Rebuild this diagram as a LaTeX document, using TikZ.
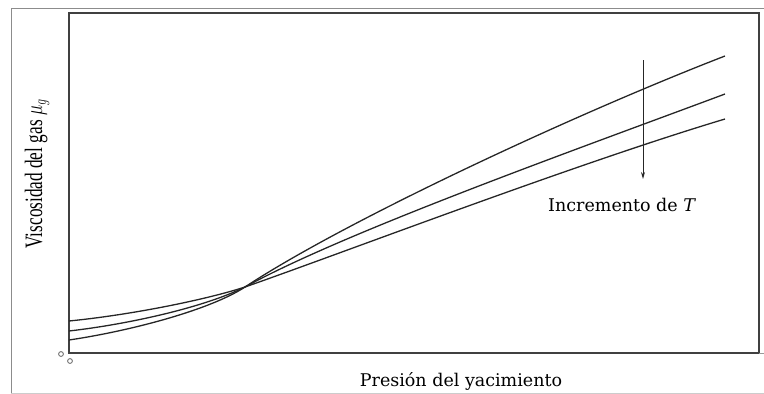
\documentclass[tikz,border=0pt]{standalone}
\usepackage{fontspec}
\usepackage{graphicx}
\setmainfont{Liberation Serif}
\newfontfamily\labfont{DejaVu Serif}
\usetikzlibrary{arrows.meta}
\begin{document}
\begin{tikzpicture}[x=1pt,y=-1pt,
  curve/.style={line width=1.3pt, draw=black!85},
  axisline/.style={line width=1.3pt, draw=black!75},
  frameline/.style={line width=1pt, draw=black!45},
  lab/.style={font=\labfont\fontsize{17.5}{20}\selectfont, text=black, inner sep=0pt}]
\useasboundingbox (0,0) rectangle (764,394);
% outer frame
\draw[frameline] (11,393) -- (11,8) -- (770,8);
\draw[line width=0.8pt, draw=black!20] (11,393) -- (764,393);
% axis box
\draw[axisline] (69,353) -- (69,13) -- (759,13) -- (759,353) -- cycle;
\draw[line width=1pt, draw=black!40] (759,353) -- (764,353);
% small origin marks
\draw[line width=0.9pt, draw=black!55] (61,354) circle (2.4);
\draw[line width=0.9pt, draw=black!55] (70,361) circle (2.4);
% curves
\coordinate (x) at (245,287);
\draw[curve] (69,340) .. controls (130,331) and (210,310) .. (x)
  .. controls (345,221) and (575,114) .. (725,56);
\draw[curve] (69,331) .. controls (130,324) and (205,307) .. (x)
  .. controls (345,232) and (575,150) .. (725,94);
\draw[curve] (69,321) .. controls (130,315) and (205,300) .. (x)
  .. controls (345,252) and (575,164) .. (725,119);
% arrow
\coordinate (atop) at (643,60);
\coordinate (abot) at (643,179);
\draw[line width=1pt, draw=black!85, -{Stealth[length=7pt,width=4pt]}] (atop) -- (abot);
\node[lab, anchor=west] (inc) at (548,205) {Incremento de \textit{T}};
% axis labels
\node[lab] (xlab) at (461,381) {Presión del yacimiento};
\node[rotate=90, inner sep=0pt, font=\fontsize{25}{28}\selectfont] (ylab) at (37,174)
  {\scalebox{0.69}[1]{Viscosidad del gas $\mu_g$}};
\end{tikzpicture}
\end{document}
